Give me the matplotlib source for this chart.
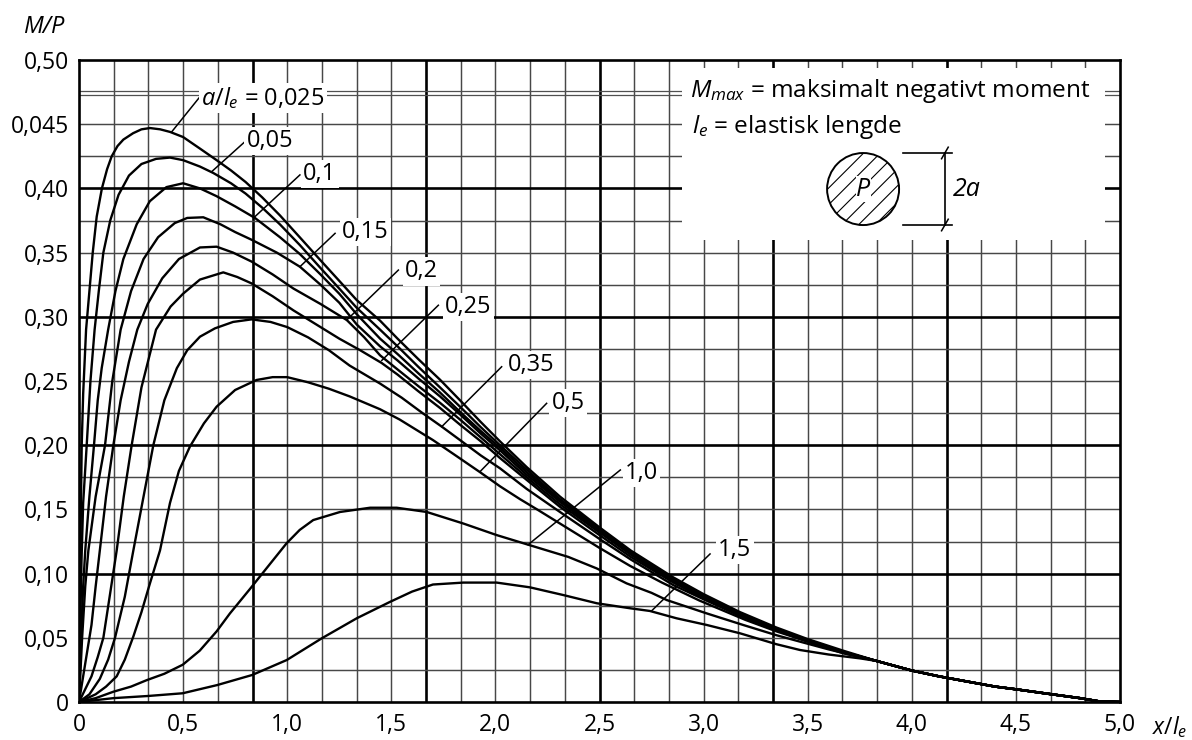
import numpy as np
import matplotlib
matplotlib.use('Agg')
import matplotlib.pyplot as plt
from matplotlib.patches import Rectangle, Ellipse

plt.rcParams['font.family'] = ['Open Sans', 'DejaVu Sans']
plt.rcParams['mathtext.fontset'] = 'custom'
plt.rcParams['mathtext.rm'] = 'Open Sans'
plt.rcParams['mathtext.it'] = 'Open Sans:italic'
plt.rcParams['mathtext.bf'] = 'Open Sans:bold'
plt.rcParams['hatch.linewidth'] = 0.8

# curves, a/l_e = 0.025 ... 1.5
x_a = [0, 0.003, 0.006, 0.009, 0.013, 0.02, 0.034, 0.05, 0.066, 0.085, 0.11, 0.135, 0.157, 0.185, 0.213, 0.26, 0.3, 0.341, 0.39, 0.437, 0.5, 0.581, 0.661, 0.73, 0.8, 0.88, 0.965, 1.06, 1.16, 1.25, 1.334, 1.446, 1.53, 1.63, 1.734, 1.83, 1.93, 2.022, 2.15, 2.31, 2.5, 2.65, 2.855, 3.0, 3.175, 3.35, 3.5, 3.67]
y_a = [0, 0.05, 0.1, 0.15, 0.2, 0.24, 0.29, 0.32, 0.35, 0.378, 0.4, 0.415, 0.425, 0.433, 0.438, 0.443, 0.446, 0.447, 0.446, 0.444, 0.44, 0.431, 0.422, 0.414, 0.405, 0.393, 0.379, 0.362, 0.344, 0.328, 0.313, 0.297, 0.283, 0.267, 0.251, 0.235, 0.218, 0.203, 0.183, 0.16, 0.136, 0.118, 0.097, 0.084, 0.07, 0.058, 0.049, 0.04]

x_b = [0, 0.006, 0.012, 0.02, 0.037, 0.055, 0.075, 0.095, 0.117, 0.15, 0.19, 0.24, 0.3, 0.37, 0.437, 0.5, 0.581, 0.645, 0.73, 0.8, 0.88, 0.965, 1.06, 1.16, 1.25, 1.334, 1.446, 1.53, 1.63, 1.734, 1.83, 1.93, 2.022, 2.15, 2.31, 2.5, 2.65, 2.855, 3.0, 3.175, 3.35, 3.5, 3.67]
y_b = [0, 0.06, 0.11, 0.155, 0.2, 0.25, 0.29, 0.32, 0.35, 0.375, 0.395, 0.41, 0.419, 0.423, 0.424, 0.422, 0.417, 0.412, 0.404, 0.396, 0.385, 0.372, 0.356, 0.338, 0.322, 0.307, 0.29, 0.277, 0.261, 0.245, 0.23, 0.214, 0.2, 0.181, 0.158, 0.135, 0.117, 0.096, 0.083, 0.069, 0.057, 0.048, 0.039]

x_c = [0, 0.01, 0.02, 0.03, 0.05, 0.072, 0.09, 0.109, 0.14, 0.175, 0.213, 0.277, 0.34, 0.42, 0.5, 0.581, 0.66, 0.75, 0.845, 0.965, 1.06, 1.16, 1.25, 1.334, 1.446, 1.53, 1.63, 1.734, 1.83, 1.93, 2.022, 2.15, 2.31, 2.5, 2.65, 2.855, 3.0, 3.175, 3.35, 3.5, 3.67]
y_c = [0, 0.05, 0.09, 0.118, 0.16, 0.2, 0.235, 0.26, 0.29, 0.32, 0.345, 0.372, 0.39, 0.401, 0.404, 0.4, 0.394, 0.386, 0.377, 0.362, 0.349, 0.333, 0.318, 0.302, 0.283, 0.271, 0.256, 0.241, 0.226, 0.211, 0.198, 0.179, 0.157, 0.134, 0.116, 0.095, 0.082, 0.069, 0.057, 0.048, 0.039]

x_d = [0, 0.015, 0.03, 0.045, 0.08, 0.125, 0.16, 0.2, 0.25, 0.31, 0.38, 0.46, 0.52, 0.597, 0.68, 0.75, 0.829, 0.95, 1.061, 1.16, 1.25, 1.334, 1.446, 1.53, 1.63, 1.734, 1.83, 1.93, 2.022, 2.15, 2.31, 2.5, 2.65, 2.855, 3.0, 3.175, 3.35, 3.5, 3.67]
y_d = [0, 0.05, 0.09, 0.118, 0.16, 0.2, 0.25, 0.29, 0.32, 0.345, 0.362, 0.373, 0.377, 0.3775, 0.372, 0.366, 0.36, 0.35, 0.339, 0.325, 0.311, 0.294, 0.277, 0.266, 0.252, 0.238, 0.224, 0.209, 0.196, 0.177, 0.156, 0.133, 0.115, 0.094, 0.082, 0.068, 0.057, 0.048, 0.039]

x_e = [0, 0.03, 0.06, 0.08, 0.1, 0.13, 0.165, 0.2, 0.24, 0.28, 0.33, 0.4, 0.48, 0.581, 0.661, 0.74, 0.829, 0.93, 1.03, 1.16, 1.286, 1.37, 1.446, 1.53, 1.63, 1.734, 1.83, 1.93, 2.022, 2.15, 2.31, 2.5, 2.65, 2.855, 3.0, 3.175, 3.35, 3.5, 3.67]
y_e = [0, 0.03, 0.06, 0.09, 0.118, 0.16, 0.2, 0.235, 0.265, 0.29, 0.31, 0.33, 0.345, 0.354, 0.3546, 0.35, 0.343, 0.333, 0.322, 0.31, 0.2975, 0.284, 0.27, 0.259, 0.246, 0.233, 0.22, 0.206, 0.193, 0.175, 0.154, 0.132, 0.115, 0.094, 0.081, 0.068, 0.057, 0.048, 0.039]

x_f = [0, 0.03, 0.06, 0.09, 0.117, 0.15, 0.181, 0.215, 0.253, 0.3, 0.37, 0.44, 0.5, 0.581, 0.693, 0.76, 0.829, 0.93, 1.03, 1.15, 1.25, 1.35, 1.454, 1.53, 1.63, 1.734, 1.83, 1.93, 2.022, 2.15, 2.31, 2.5, 2.65, 2.855, 3.0, 3.175, 3.35, 3.5, 3.67]
y_f = [0, 0.01, 0.02, 0.035, 0.05, 0.085, 0.118, 0.16, 0.2, 0.245, 0.29, 0.308, 0.318, 0.329, 0.3346, 0.331, 0.326, 0.316, 0.305, 0.293, 0.283, 0.274, 0.264, 0.255, 0.242, 0.229, 0.216, 0.203, 0.19, 0.173, 0.152, 0.13, 0.113, 0.093, 0.081, 0.068, 0.057, 0.048, 0.039]

x_g = [0, 0.05, 0.1, 0.14, 0.173, 0.22, 0.261, 0.31, 0.357, 0.41, 0.47, 0.52, 0.581, 0.653, 0.74, 0.829, 0.92, 1.0, 1.1, 1.2, 1.3, 1.446, 1.55, 1.65, 1.742, 1.83, 1.93, 2.022, 2.15, 2.31, 2.5, 2.65, 2.855, 3.0, 3.175, 3.35, 3.5, 3.67]
y_g = [0, 0.006, 0.018, 0.033, 0.05, 0.082, 0.118, 0.16, 0.2, 0.235, 0.26, 0.274, 0.2845, 0.291, 0.296, 0.298, 0.296, 0.292, 0.284, 0.274, 0.262, 0.248, 0.237, 0.225, 0.2145, 0.204, 0.192, 0.182, 0.166, 0.148, 0.127, 0.111, 0.091, 0.08, 0.067, 0.056, 0.047, 0.039]

x_h = [0, 0.08, 0.13, 0.181, 0.22, 0.261, 0.3, 0.34, 0.389, 0.437, 0.48, 0.533, 0.6, 0.661, 0.75, 0.853, 0.93, 1.0, 1.1, 1.2, 1.3, 1.446, 1.54, 1.7, 1.8, 1.926, 2.022, 2.118, 2.2, 2.31, 2.5, 2.647, 2.8, 2.98, 3.2, 3.35, 3.5, 3.67]
y_h = [0, 0.006, 0.012, 0.02, 0.033, 0.051, 0.07, 0.092, 0.118, 0.155, 0.18, 0.199, 0.217, 0.23, 0.243, 0.2508, 0.253, 0.253, 0.249, 0.244, 0.238, 0.228, 0.22, 0.204, 0.193, 0.179, 0.168, 0.158, 0.15, 0.139, 0.12, 0.106, 0.093, 0.079, 0.064, 0.055, 0.047, 0.038]

x_i = [0, 0.08, 0.165, 0.25, 0.325, 0.41, 0.498, 0.58, 0.661, 0.725, 0.821, 0.9, 0.997, 1.06, 1.125, 1.254, 1.398, 1.526, 1.67, 1.846, 2.006, 2.214, 2.35, 2.487, 2.63, 2.75, 2.823, 3.015, 3.19, 3.35, 3.463, 3.6, 3.75]
y_i = [0, 0.003, 0.008, 0.012, 0.017, 0.022, 0.029, 0.04, 0.055, 0.069, 0.088, 0.104, 0.1236, 0.134, 0.1417, 0.148, 0.1513, 0.1513, 0.148, 0.139, 0.13, 0.1197, 0.113, 0.104, 0.0924, 0.085, 0.0794, 0.069, 0.06, 0.052, 0.047, 0.041, 0.035]

x_j = [0, 0.165, 0.333, 0.498, 0.664, 0.831, 0.998, 1.166, 1.334, 1.494, 1.6, 1.7, 1.846, 2.006, 2.166, 2.326, 2.487, 2.647, 2.742, 2.87, 3.015, 3.175, 3.35, 3.463, 3.6, 3.75]
y_j = [0, 0.003, 0.0047, 0.0068, 0.0132, 0.021, 0.0327, 0.0496, 0.0652, 0.078, 0.086, 0.0915, 0.093, 0.093, 0.0893, 0.0833, 0.0769, 0.073, 0.0709, 0.0652, 0.06, 0.0535, 0.045, 0.0405, 0.037, 0.034]

# common tail where all curves run together
tail_x = [3.83, 4.0, 4.13, 4.264, 4.4, 4.5, 4.65, 4.808, 4.9, 5.0]
tail_y = [0.032, 0.0245, 0.020, 0.016, 0.012, 0.0099, 0.0065, 0.003, 0.0005, 0.0]

curves = [(x_a, y_a), (x_b, y_b), (x_c, y_c), (x_d, y_d), (x_e, y_e),
          (x_f, y_f), (x_g, y_g), (x_h, y_h), (x_i, y_i), (x_j, y_j)]

# curve labels and leader lines
label_txt = [r'$a/l_e$ = 0,025', '0,05', '0,1', '0,15', '0,2', '0,25', '0,35', '0,5', '1,0', '1,5']
label_x = [0.586, 0.805, 1.077, 1.262, 1.566, 1.758, 2.062, 2.27, 2.622, 3.07]
label_y = [0.4647, 0.4325, 0.4065, 0.3611, 0.3307, 0.3032, 0.258, 0.228, 0.1737, 0.1137]
lead_x0 = [0.581, 0.797, 1.061, 1.23, 1.534, 1.726, 2.03, 2.246, 2.6, 3.031]
lead_y0 = [0.4714, 0.4364, 0.4105, 0.365, 0.3364, 0.309, 0.2611, 0.2326, 0.1807, 0.1153]
lead_x1 = [0.445, 0.637, 0.845, 1.061, 1.286, 1.454, 1.742, 1.926, 2.157, 2.751]
lead_y1 = [0.444, 0.413, 0.378, 0.339, 0.2975, 0.266, 0.2144, 0.1794, 0.1225, 0.0711]

xtick_vals = [0, 0.5, 1.0, 1.5, 2.0, 2.5, 3.0, 3.5, 4.0, 4.5, 5.0]
xtick_lbl = ['0', '0,5', '1,0', '1,5', '2,0', '2,5', '3,0', '3,5', '4,0', '4,5', '5,0']
ytick_vals = [0, 0.05, 0.10, 0.15, 0.20, 0.25, 0.30, 0.35, 0.40, 0.45, 0.50]
ytick_lbl = ['0', '0,05', '0,10', '0,15', '0,20', '0,25', '0,30', '0,35', '0,40', '0,045', '0,50']

fig = plt.figure(figsize=(11.92, 7.4), dpi=100)
ax = fig.add_axes([79 / 1192, 38 / 740, 1041 / 1192, 642 / 740])
ax.set_xlim(0, 5)
ax.set_ylim(0, 0.5)

# grid: 1/6 steps in x (heavy every 5th), 0.025 steps in y (heavy every 0.1)
for k in range(1, 30):
    heavy = k % 5 == 0
    ax.axvline(k / 6, color='black' if heavy else '#474747', lw=1.9 if heavy else 1.05, zorder=1)
for k in range(1, 19):
    heavy = k % 4 == 0
    ax.axhline(k * 0.025, color='black' if heavy else '#474747', lw=1.9 if heavy else 1.05, zorder=1)
# double line (scale break) near the top
ax.axhline(0.4727, color='#505050', lw=0.9, zorder=1)
ax.axhline(0.4758, color='#505050', lw=0.9, zorder=1)

for s in ax.spines.values():
    s.set_linewidth(1.9)

ax.set_xticks(xtick_vals)
ax.set_xticklabels(xtick_lbl)
ax.set_yticks(ytick_vals)
ax.set_yticklabels(ytick_lbl)
ax.tick_params(length=0, labelsize=16.5)
ax.tick_params(axis='y', pad=7)
ax.tick_params(axis='x', pad=8)

# white key box
ax.add_patch(Rectangle((2.895, 0.36), 4.93 - 2.895, 0.494 - 0.36, facecolor='white',
                       edgecolor='none', zorder=2))

for cx, cy in curves:
    ax.plot(cx + tail_x, cy + tail_y, color='black', lw=1.7, zorder=3,
            solid_joinstyle='round', solid_capstyle='round')

for i in range(len(label_txt)):
    ax.plot([lead_x0[i], lead_x1[i]], [lead_y0[i], lead_y1[i]], color='black', lw=1.1, zorder=4)
    ax.text(label_x[i], label_y[i], label_txt[i], fontsize=17, ha='left', va='baseline',
            zorder=5, bbox=dict(facecolor='white', edgecolor='none', pad=1.5))

# key text and sketch
ax.text(2.935, 0.4714, r'$M_{max}$ = maksimalt negativt moment', fontsize=17.6, va='baseline', zorder=5)
ax.text(2.945, 0.4434, r'$l_e$ = elastisk lengde', fontsize=17.6, va='baseline', zorder=5)
ax.add_patch(Ellipse((3.766, 0.3995), 0.3458, 0.0561, facecolor='white', edgecolor='black',
                     lw=1.4, hatch='//', zorder=3))
ax.text(3.766, 0.3995, 'P', style='italic', fontsize=18, ha='center', va='center', zorder=5,
        bbox=dict(facecolor='white', edgecolor='none', pad=0.3))
ax.plot([4.159, 4.159], [0.4276, 0.3715], color='black', lw=1.2, zorder=4)
ax.plot([3.958, 4.193], [0.4276, 0.4276], color='black', lw=1.2, zorder=4)
ax.plot([3.958, 4.193], [0.3715, 0.3715], color='black', lw=1.2, zorder=4)
for yy in [0.4276, 0.3715]:
    ax.plot([4.159 - 0.016, 4.159 + 0.016], [yy - 0.0045, yy + 0.0045], color='black', lw=1.1, zorder=4)
ax.text(4.198, 0.3995, '2a', style='italic', fontsize=18, ha='left', va='center', zorder=5)

# axis titles
ax.text(-0.168, 0.5257, 'M/P', style='italic', fontsize=17, ha='center', va='center', clip_on=False)
ax.text(5.154, -0.0195, r'$x/l_e$', fontsize=16.5, ha='left', va='center', clip_on=False)

fig.savefig('out.png', dpi=100)
